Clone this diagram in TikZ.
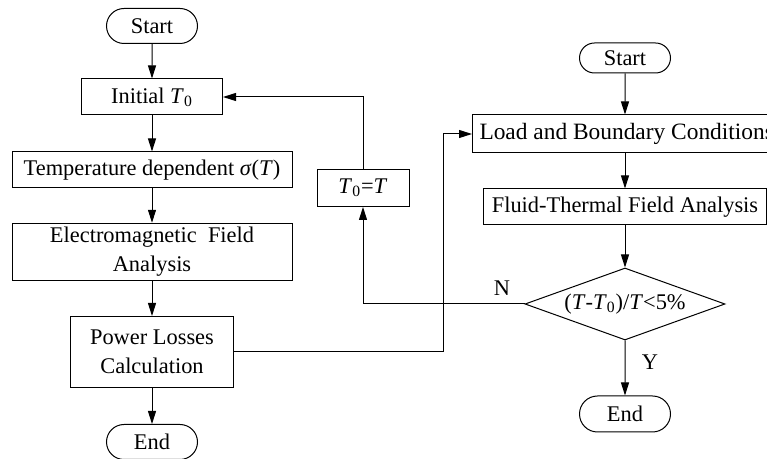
\documentclass[tikz,border=0pt]{standalone}
\usepackage{fontspec}
\setmainfont{Liberation Serif}
\usetikzlibrary{shapes.geometric,shapes.misc,arrows.meta}
\newcommand{\vT}{\textit{T}}
\begin{document}
\begin{tikzpicture}[x=0.5pt,y=-0.5pt,
  font=\fontsize{11.2}{14.5}\selectfont,
  line width=0.5pt,
  term/.style={draw, rounded rectangle, minimum width=45.5pt, minimum height=17.5pt, inner sep=0pt},
  proc/.style={draw, rectangle, minimum height=18pt, inner sep=2pt, align=center},
  cond/.style={draw, diamond, aspect=2.78, minimum width=100pt, minimum height=36pt, inner sep=0pt},
  arr/.style={-{Triangle[length=6.5pt,width=4pt]}}]
  % 画布范围
  \path[use as bounding box] (0,0) rectangle (767,459);
  \clip (0,0) rectangle (767,459);
  % 左侧流程（电磁场）
  \node[term] (startL) at (152,26) {Start};
  \node[proc, minimum width=70.5pt] (init) at (152,97) {Initial \vT\textsubscript{0}};
  \node[proc, minimum width=140pt] (temp) at (152,170) {Temperature dependent \textit{σ}(\vT)};
  \node[proc, minimum width=140pt, minimum height=27pt] (em) at (152,252) {Electromagnetic\ \ Field\\Analysis};
  \node[proc, minimum width=81.5pt, minimum height=35.5pt] (power) at (152,352) {Power Losses\\Calculation};
  \node[term] (endL) at (152,442) {End};
  % 温度更新
  \node[proc, minimum width=46pt, minimum height=18.5pt] (upd) at (363,188) {\vT\textsubscript{0}=\vT};
  % 右侧流程（流体-热场）
  \node[term, minimum height=15pt] (startR) at (625,58) {Start};
  \node[proc, anchor=west, inner xsep=3.5pt, minimum height=19pt, font=\fontsize{11.7}{15}\selectfont] (load) at (472,134) {Load and Boundary Conditions};
  \node[proc, minimum width=141.5pt] (fluid) at (625,207) {Fluid-Thermal Field Analysis};
  \node[cond] (check) at (625,304) {(\vT-\vT\textsubscript{0})/\vT<5\%};
  \node[term, minimum height=18pt] (endR) at (625,414) {End};
  % 判断标注
  \node (lblN) at (502,288) {N};
  \node (lblY) at (650,362) {Y};
  % 连线
  \draw[arr] (startL) -- (init);
  \draw[arr] (init) -- (temp);
  \draw[arr] (temp) -- (em);
  \draw[arr] (em) -- (power);
  \draw[arr] (power) -- (endL);
  \coordinate (bend) at (443,134);
  \draw[arr] (power.east) -| (bend) -- (load.west);
  \draw[arr] (startR) -- (startR |- load.north);
  \draw[arr] (startR |- load.south) -- (fluid);
  \draw[arr] (fluid) -- (check);
  \draw[arr] (check) -- (endR);
  \draw[arr] (check.west) -| (upd.south);
  \draw[arr] (upd.north) |- (init.east);
\end{tikzpicture}
\end{document}
